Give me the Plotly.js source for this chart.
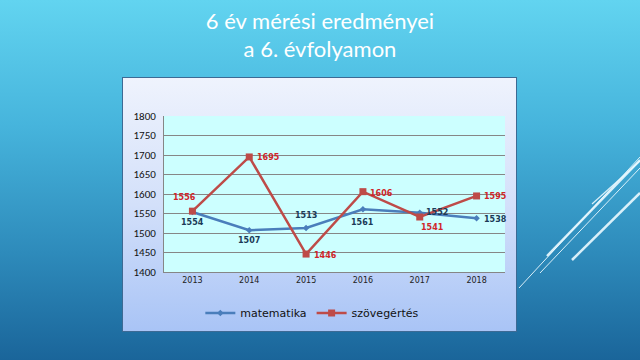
<!DOCTYPE html>
<html>
<head>
<meta charset="utf-8">
<script src="https://cdn.plot.ly/plotly-3.0.1.min.js"></script>
<style>
  html, body { margin:0; padding:0; width:640px; height:360px; overflow:hidden; }
  body { background: linear-gradient(to bottom, #62d4f0 0%, #46b4dc 35%, #2e8bbb 70%, #1a659a 100%); position:relative; }
  #box { position:absolute; left:122px; top:77px; width:395px; height:255px; box-sizing:border-box;
         border:1px solid #3d6a94; background: linear-gradient(to bottom, #eff3fd 0%, #d3e0fa 50%, #a9c4f6 100%); }
  #chart { position:absolute; left:0; top:0; width:640px; height:360px; }
</style>
</head>
<body>
<div id="box"></div>
<div id="chart"></div>
<script>
const years = ['2013', '2014', '2015', '2016', '2017', '2018'];
const matematika = [1554, 1507, 1513, 1561, 1552, 1538];
const szovegertes = [1556, 1695, 1446, 1606, 1541, 1595];
const yTicks = [1400, 1450, 1500, 1550, 1600, 1650, 1700, 1750, 1800];

// label placement (style): [xanchor, xshift, yshift]
const mathLbl = [['center', 0, -11], ['center', 0, -10], ['center', 0, 12], ['center', 0, -13], ['left', 4, 0], ['left', 5, -1]];
const szovLbl = [['center', -8, 14], ['left', 6, -1], ['left', 6, -1], ['left', 5, -2], ['center', 13, -10], ['left', 5, -1]];

const traces = [
  {
    x: years, y: matematika, name: 'matematika', type: 'scatter', mode: 'lines+markers',
    line: {color: '#4a7ebb', width: 2.5},
    marker: {symbol: 'diamond', size: 5, color: '#4a7ebb'},
    cliponaxis: false
  },
  {
    x: years, y: szovegertes, name: 'szövegértés', type: 'scatter', mode: 'lines+markers',
    line: {color: '#be4b48', width: 2.5},
    marker: {symbol: 'square', size: 7, color: '#be4b48'},
    cliponaxis: false
  }
];

function labels(vals, pos, color) {
  return vals.map((v, i) => ({
    x: i, y: v, xref: 'x', yref: 'y', text: String(v), showarrow: false,
    xanchor: pos[i][0], yanchor: 'middle', xshift: pos[i][1], yshift: pos[i][2],
    font: {family: 'DejaVu Sans, Verdana, sans-serif', size: 8, color: color, weight: 'bold'}
  }));
}
const annotations = labels(matematika, mathLbl, '#1b3a57').concat(labels(szovegertes, szovLbl, '#d0262a'));

const deco = [
  [519, 288, 640, 157, 1],
  [547, 256, 640, 160, 2.5],
  [540, 273, 640, 168, 1],
  [592, 204, 640, 161, 1.2],
  [572, 260, 640, 193, 2.5]
];
const shapes = deco.map(d => ({
  type: 'line', xref: 'paper', yref: 'paper',
  x0: (d[0] - 164) / 341, y0: (272 - d[1]) / 156,
  x1: (d[2] - 164) / 341, y1: (272 - d[3]) / 156,
  line: {color: 'rgba(235,250,255,0.9)', width: d[4]}, layer: 'above'
}));

const layout = {
  width: 640, height: 360,
  margin: {l: 164, r: 135, t: 116, b: 88},
  paper_bgcolor: 'rgba(0,0,0,0)',
  plot_bgcolor: '#ccffff',
  showlegend: true,
  title: {
    text: '6 év mérési eredményei<br>a 6. évfolyamon',
    font: {family: 'Lato, Open Sans, sans-serif', size: 22, color: '#ffffff'},
    x: 0.5, xref: 'container', xanchor: 'center',
    y: 0.92, yref: 'container', yanchor: 'middle'
  },
  xaxis: {
    type: 'category', range: [-0.5, 5.5],
    showgrid: false, showline: true, linecolor: '#868686', linewidth: 1,
    ticks: '', tickfont: {family: 'DejaVu Sans, Verdana, sans-serif', size: 8, color: '#222222'},
    fixedrange: true
  },
  yaxis: {
    range: [1400, 1800], tickvals: yTicks, ticktext: yTicks.map(String),
    showgrid: true, gridcolor: '#868686', gridwidth: 1,
    showline: true, linecolor: '#868686', linewidth: 1, zeroline: false,
    ticks: '', ticklabelstandoff: 5,
    tickfont: {family: 'Calibri, Carlito, Liberation Sans, sans-serif', size: 11, color: '#111111'},
    fixedrange: true
  },
  legend: {
    orientation: 'h', x: 0.435, y: -0.263, xanchor: 'center', yanchor: 'middle',
    font: {family: 'Verdana, DejaVu Sans, sans-serif', size: 11, color: '#111111'},
    bgcolor: 'rgba(0,0,0,0)', itemwidth: 30
  },
  annotations: annotations,
  shapes: shapes
};

Plotly.newPlot('chart', traces, layout, {displayModeBar: false, staticPlot: true});
</script>
</body>
</html>
